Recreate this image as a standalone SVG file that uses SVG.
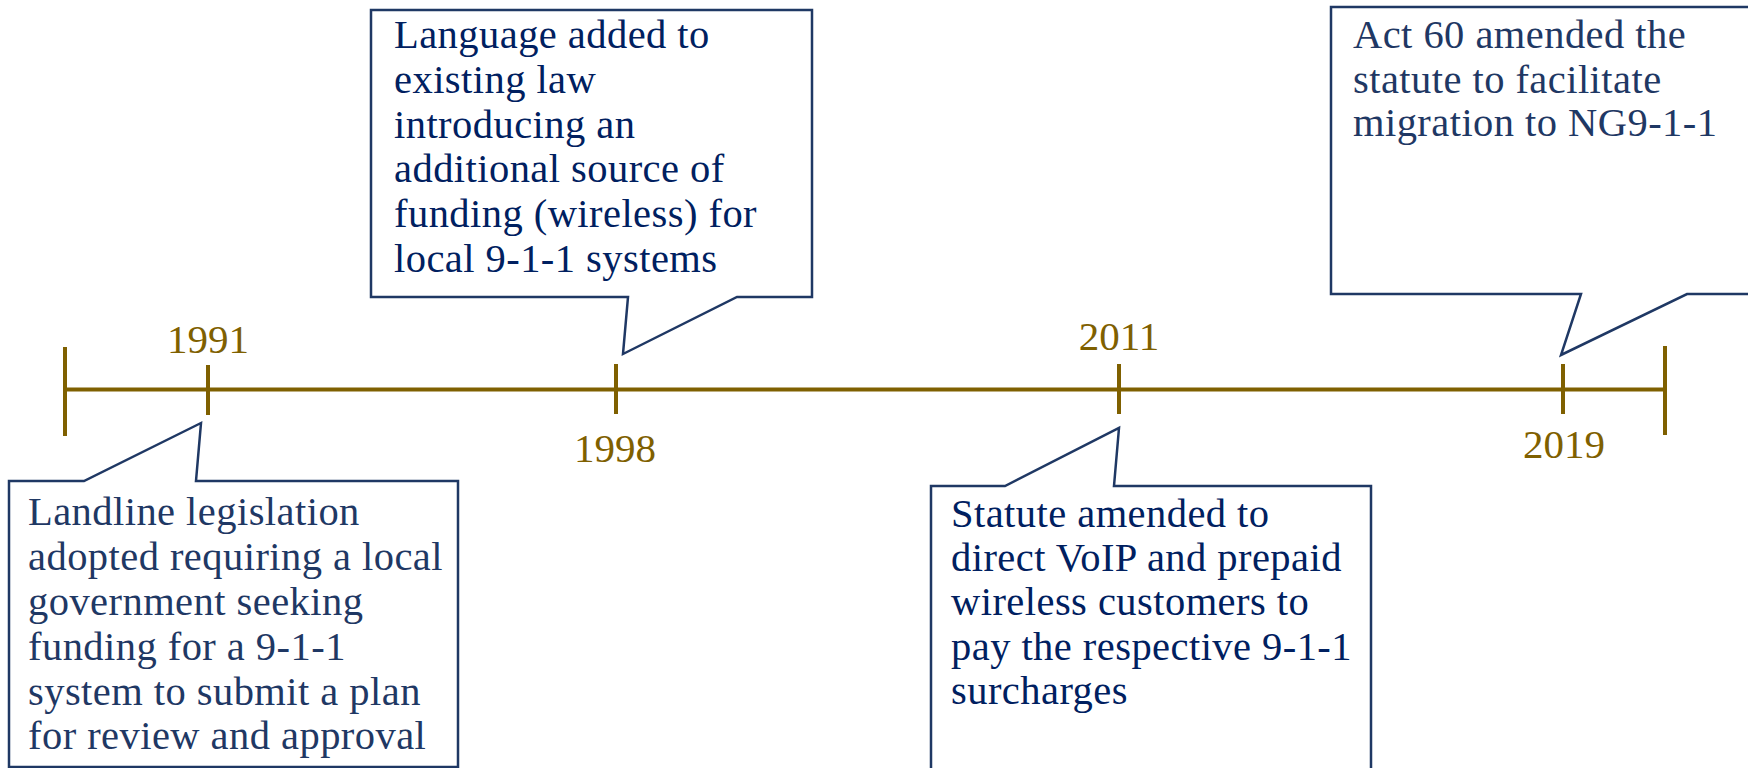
<svg xmlns="http://www.w3.org/2000/svg" width="1748" height="768" viewBox="0 0 1748 768">
<style>
.axis{stroke:#7F6000;stroke-width:4;fill:none}
.year{font-family:"Liberation Serif",serif;font-size:41px;fill:#7F6000;text-anchor:middle}
.call{fill:#fff;stroke:#1F3864;stroke-width:2.5;stroke-linejoin:miter}
.t{font-family:"Liberation Serif",serif;font-size:40.5px;letter-spacing:0.45px;fill:#1F3864}
.t2{fill:#002060}
</style>
<rect width="1748" height="768" fill="#fff"/>
<g id="timeline">
<line class="axis" x1="65" y1="389.5" x2="1665" y2="389.5"/>
<line class="axis" x1="65" y1="347" x2="65" y2="436"/>
<line class="axis" x1="1665" y1="346" x2="1665" y2="435"/>
<line class="axis" x1="208" y1="365" x2="208" y2="415"/>
<line class="axis" x1="616" y1="364" x2="616" y2="414"/>
<line class="axis" x1="1119" y1="364" x2="1119" y2="414"/>
<line class="axis" x1="1563" y1="364" x2="1563" y2="414"/>
<text class="year" x="208" y="353">1991</text>
<text class="year" x="615" y="462">1998</text>
<text class="year" x="1119" y="350">2011</text>
<text class="year" x="1564" y="458">2019</text>
</g>
<g id="callout-1991">
<path class="call" d="M9,481 H84 L201,423 L196,481 H458 V767 H9 Z"/>
<text class="t"><tspan x="28" y="525">Landline legislation</tspan><tspan x="28" y="570">adopted requiring a local</tspan><tspan x="28" y="615">government seeking</tspan><tspan x="28" y="660">funding for a 9-1-1</tspan><tspan x="28" y="705">system to submit a plan</tspan><tspan x="28" y="749">for review and approval</tspan></text>
</g>
<g id="callout-1998">
<path class="call" d="M371,10 H812 V297 H737 L623,354 L628,297 H371 Z"/>
<text class="t t2"><tspan x="394" y="48">Language added to</tspan><tspan x="394" y="93">existing law</tspan><tspan x="394" y="138">introducing an</tspan><tspan x="394" y="182">additional source of</tspan><tspan x="394" y="227">funding (wireless) for</tspan><tspan x="394" y="272">local 9-1-1 systems</tspan></text>
</g>
<g id="callout-2011">
<path class="call" d="M931,486 H1005 L1119,428 L1114,486 H1371 V790 H931 Z"/>
<text class="t t2"><tspan x="951" y="527">Statute amended to</tspan><tspan x="951" y="571">direct VoIP and prepaid</tspan><tspan x="951" y="615">wireless customers to</tspan><tspan x="951" y="660">pay the respective 9-1-1</tspan><tspan x="951" y="704">surcharges</tspan></text>
</g>
<g id="callout-2019">
<path class="call" d="M1331,7 H1780 V294 H1687 L1561,355 L1581,294 H1331 Z"/>
<text class="t"><tspan x="1353" y="48">Act 60 amended the</tspan><tspan x="1353" y="93">statute to facilitate</tspan><tspan x="1353" y="136">migration to NG9-1-1</tspan></text>
</g>
</svg>
